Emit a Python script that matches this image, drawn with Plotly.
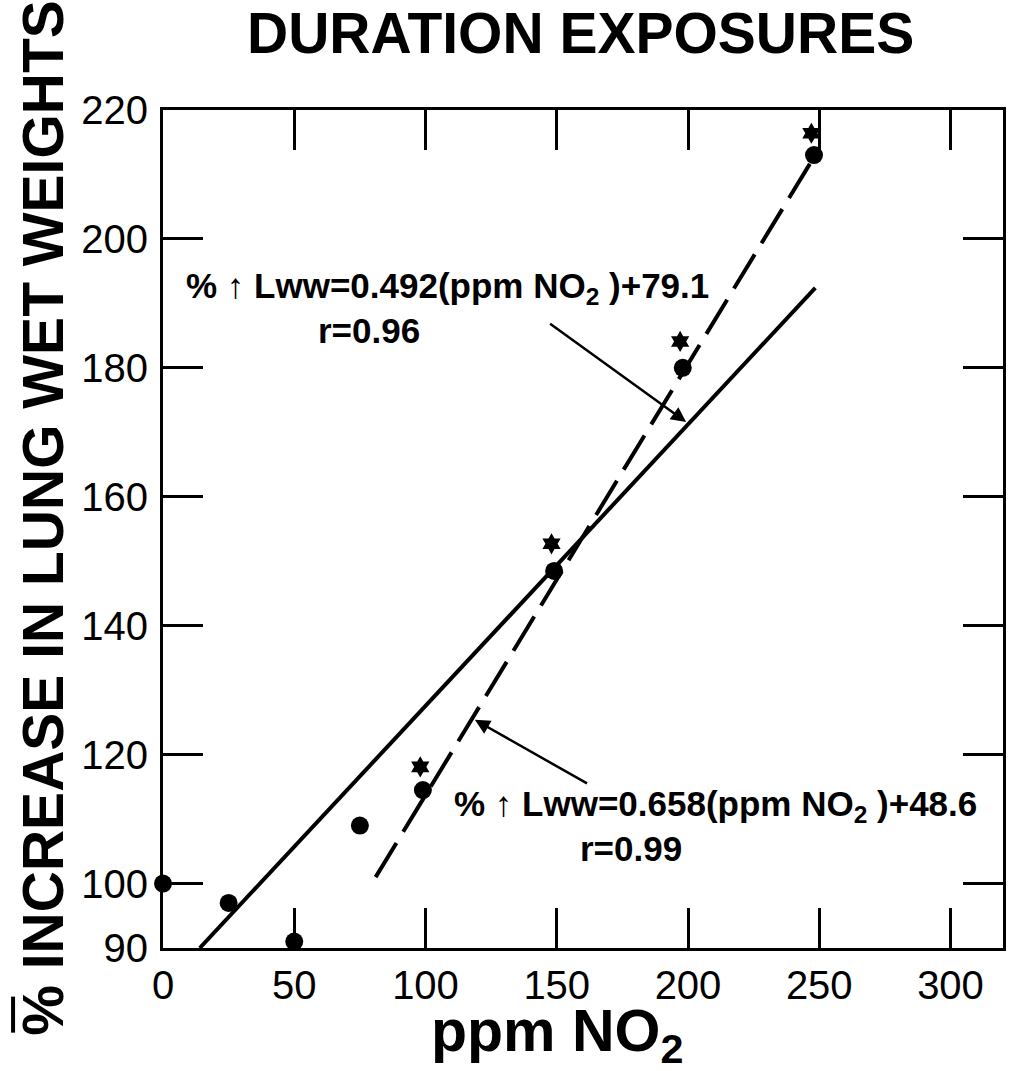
import plotly.graph_objects as go

# ---- data ----
ppm_dots = [0, 25, 50, 75, 99, 149, 198, 248]
lww_dots = [100, 97, 91, 109, 114.5, 148.5, 180, 213]

ppm_stars = [98, 148, 197, 247]
lww_stars = [118.1, 152.7, 184.1, 216.4]

# drawn regression lines (end points as drawn)
solid_x = [14, 248.5]
solid_y = [90, 192.4]
dashed_x = [81, 248]
dashed_y = [101, 212.7]

x_ticks = [0, 50, 100, 150, 200, 250, 300]
y_ticks = [90, 100, 120, 140, 160, 180, 200, 220]

title_text = "DURATION EXPOSURES"
x_title = "ppm NO<sub>2</sub>"
y_title = "% INCREASE IN LUNG WET WEIGHTS"
eq1 = "% \u2191 Lww=0.492(ppm NO<sub>2</sub> )+79.1"
r1 = "r=0.96"
eq2 = "% \u2191 Lww=0.658(ppm NO<sub>2</sub> )+48.6"
r2 = "r=0.99"

FONT = "Liberation Sans, Arial, sans-serif"
BLACK = "#000000"

fig = go.Figure()

fig.add_trace(go.Scatter(
    x=solid_x, y=solid_y, mode="lines",
    line=dict(color=BLACK, width=4), showlegend=False, hoverinfo="skip"))
fig.add_trace(go.Scatter(
    x=dashed_x, y=dashed_y, mode="lines",
    line=dict(color=BLACK, width=4, dash="40px,13px"), showlegend=False, hoverinfo="skip"))
fig.add_trace(go.Scatter(
    x=ppm_dots, y=lww_dots, mode="markers",
    marker=dict(symbol="circle", size=18, color=BLACK), showlegend=False, cliponaxis=False))
fig.add_trace(go.Scatter(
    x=ppm_stars, y=lww_stars, mode="markers",
    marker=dict(symbol="hexagram", size=16, color=BLACK), showlegend=False, cliponaxis=False))

axis_common = dict(
    showline=True, linecolor=BLACK, linewidth=3, mirror="ticks",
    ticks="inside", ticklen=40, tickwidth=3, tickcolor=BLACK,
    showgrid=False, zeroline=False,
    tickfont=dict(family=FONT, size=40, color=BLACK),
)

fig.update_xaxes(range=[0, 320], tickvals=x_ticks, ticklabelstandoff=0, **axis_common)
fig.update_yaxes(range=[90, 220], tickvals=y_ticks, ticklabelstandoff=4, **axis_common)

annos = []
# title
annos.append(dict(text="<b>" + title_text + "</b>", xref="paper", yref="paper",
                  x=0.497, y=1.092, xanchor="center", yanchor="middle", showarrow=False,
                  font=dict(family=FONT, size=57, color=BLACK)))
# x title
annos.append(dict(text="<b>" + x_title + "</b>", xref="paper", yref="paper",
                  x=0.4686, y=-0.104, xanchor="center", yanchor="middle", showarrow=False,
                  borderpad=0, font=dict(family=FONT, size=59, color=BLACK)))
# y title
annos.append(dict(text="<b>" + y_title + "</b>", xref="paper", yref="paper",
                  x=-0.1423, y=0.514, xanchor="center", yanchor="middle", showarrow=False,
                  textangle=-90, font=dict(family=FONT, size=57, color=BLACK)))
# equations
eqfont = dict(family=FONT, size=35, color=BLACK)
annos.append(dict(text="<b>" + eq1 + "</b>", x=108.2, y=192.4, xref="x", yref="y",
                  showarrow=False, font=eqfont, xanchor="center", yanchor="middle"))
annos.append(dict(text="<b>" + r1 + "</b>", x=78.6, y=185.8, xref="x", yref="y",
                  showarrow=False, font=eqfont, xanchor="center", yanchor="middle"))
annos.append(dict(text="<b>" + eq2 + "</b>", x=210.3, y=112.0, xref="x", yref="y",
                  showarrow=False, font=eqfont, xanchor="center", yanchor="middle"))
annos.append(dict(text="<b>" + r2 + "</b>", x=178.1, y=105.5, xref="x", yref="y",
                  showarrow=False, font=eqfont, xanchor="center", yanchor="middle"))
# pointer arrows
annos.append(dict(text="", x=199.3, y=171.6, ax=146.9, ay=187.0, xref="x", yref="y",
                  axref="x", ayref="y", showarrow=True, arrowhead=2, arrowsize=1.2,
                  arrowwidth=2.5, arrowcolor=BLACK))
annos.append(dict(text="", x=118.8, y=125.4, ax=162.1, ay=115.4, xref="x", yref="y",
                  axref="x", ayref="y", showarrow=True, arrowhead=2, arrowsize=1.2,
                  arrowwidth=2.5, arrowcolor=BLACK))

# overbar on the "%" of the rotated y title
shapes = [dict(type="line", xref="paper", yref="paper",
               x0=-0.1785, x1=-0.1785, y0=-0.058, y1=-0.101,
               line=dict(color=BLACK, width=4))]

fig.update_layout(
    width=1010, height=1071,
    margin=dict(l=163, r=4, t=110, b=123),
    paper_bgcolor="white", plot_bgcolor="white",
    annotations=annos, shapes=shapes, showlegend=False,
    font=dict(family=FONT, color=BLACK),
)

fig.write_html("out.html", config={"displayModeBar": False},
               post_script="document.body.style.margin='0';")
